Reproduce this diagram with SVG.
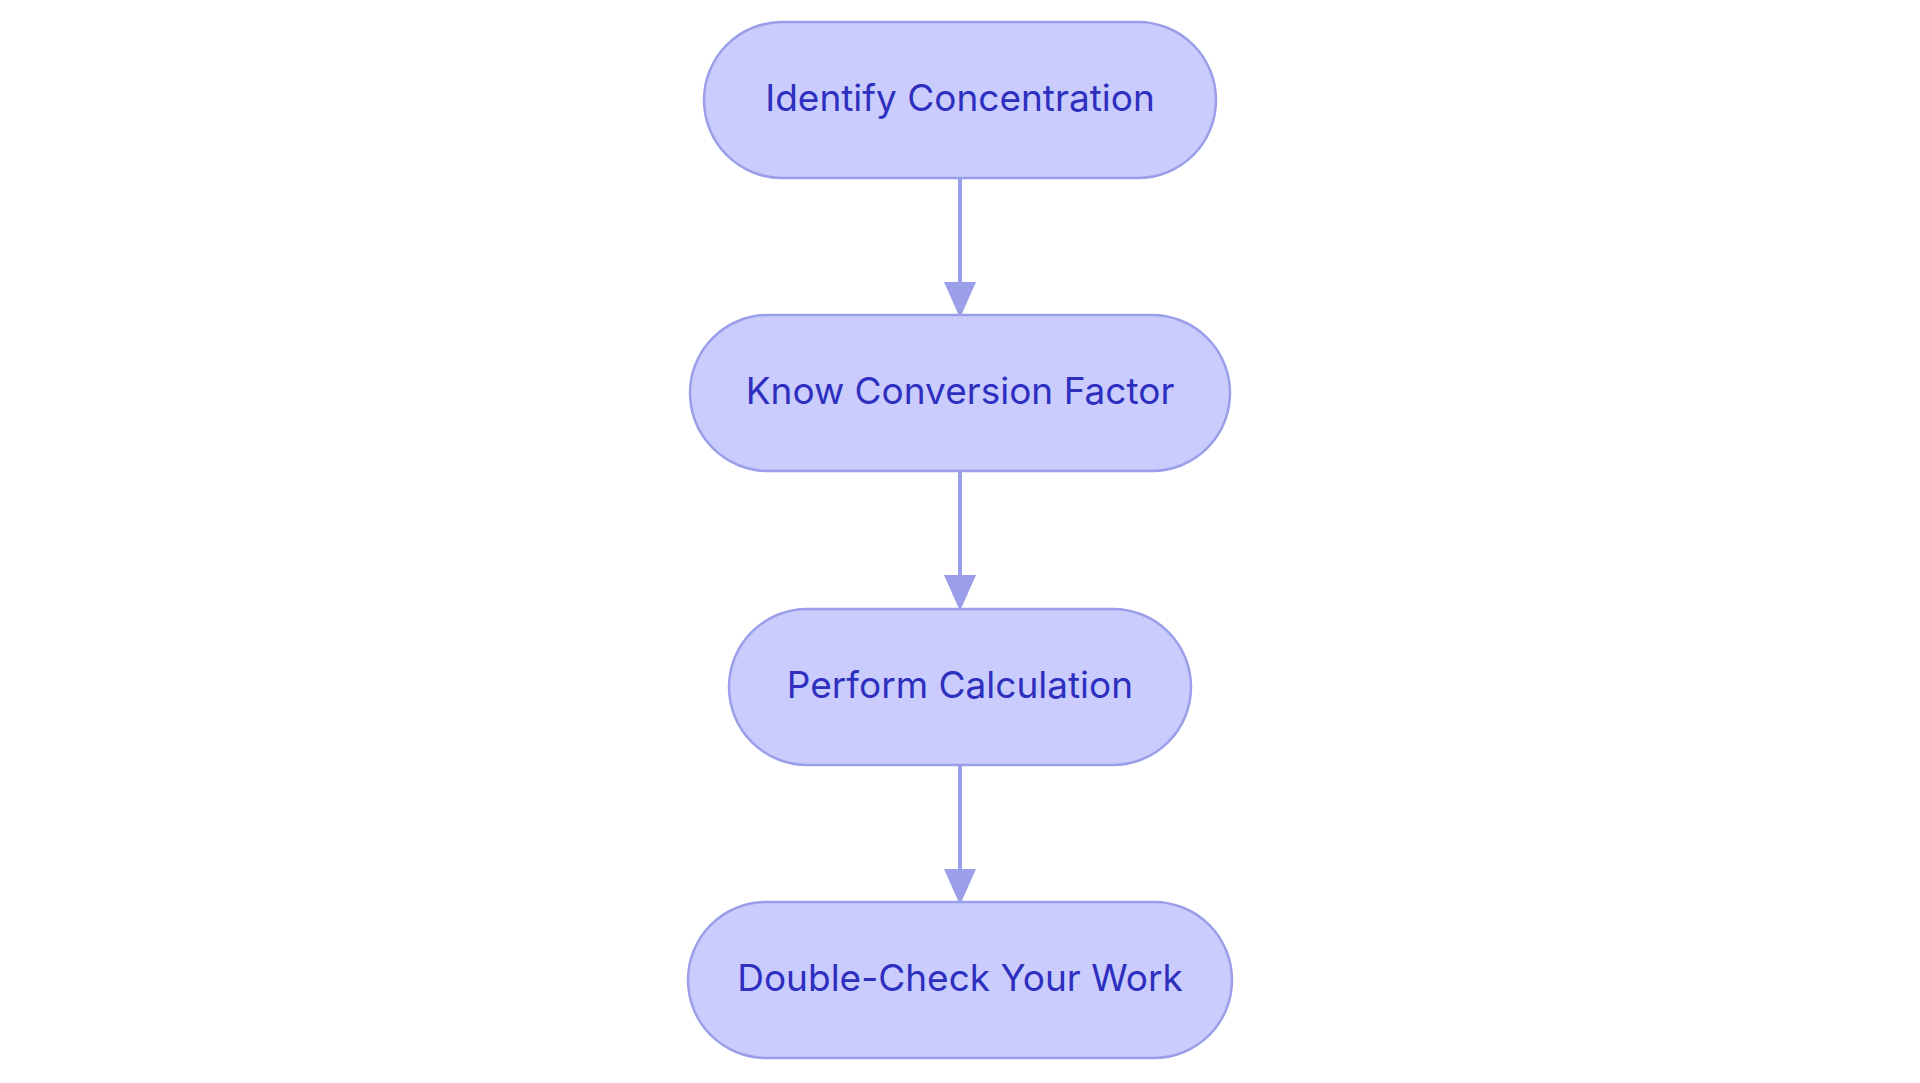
<svg xmlns="http://www.w3.org/2000/svg" width="1920" height="1083" viewBox="0 0 1920 1083">
<style>
.n rect{fill:#c9ccfd;stroke:#9b9fe9;stroke-width:2.5}
.n text{font-family:Inter,"Noto Sans",sans-serif;font-size:37px;fill:#2e2fbf;text-anchor:middle;dominant-baseline:central}
.e{stroke:#9b9fe9;stroke-width:4;fill:none}
</style>
<defs><marker id="a" markerWidth="9" markerHeight="8" refX="8" refY="4" orient="auto" markerUnits="strokeWidth"><path d="M0,0L9,4L0,8z" fill="#9b9fe9"/></marker></defs>
<rect width="1920" height="1083" fill="#fff"/>
<g id="edges">
<path class="e" d="M960,178V314" marker-end="url(#a)"/>
<path class="e" d="M960,471V607" marker-end="url(#a)"/>
<path class="e" d="M960,765V901" marker-end="url(#a)"/>
</g>
<g id="n1" class="n"><rect x="704" y="22" width="512" height="156" rx="78"/><text x="960" y="97">Identify Concentration</text></g>
<g id="n2" class="n"><rect x="690" y="315" width="540" height="156" rx="78"/><text x="960" y="390">Know Conversion Factor</text></g>
<g id="n3" class="n"><rect x="729" y="609" width="462" height="156" rx="78"/><text x="960" y="684">Perform Calculation</text></g>
<g id="n4" class="n"><rect x="688" y="902" width="544" height="156" rx="78"/><text x="960" y="977">Double-Check Your Work</text></g>
</svg>
